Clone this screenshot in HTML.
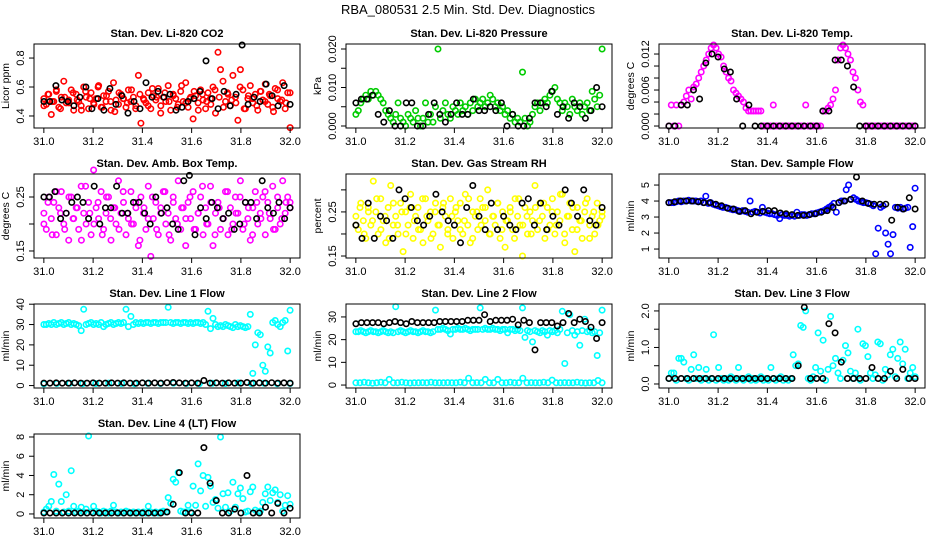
<!DOCTYPE html>
<html><head><meta charset="utf-8"><style>
html,body{margin:0;padding:0;background:#fff}
svg{display:block}
text{font-family:"Liberation Sans",sans-serif;fill:#000}
</style></head><body>
<svg id="chart" width="936" height="540" viewBox="0 0 936 540" xmlns="http://www.w3.org/2000/svg">
<rect width="936" height="540" fill="#fff"/>
<text x="468" y="14" text-anchor="middle" font-size="13">RBA_080531  2.5 Min. Std. Dev. Diagnostics</text>
</svg>
<script>
const xTicks=[31.0,31.2,31.4,31.6,31.8,32.0];
const co2Red=[0.52,0.48,0.55,0.41,0.50,0.57,0.46,0.53,0.64,0.49,0.51,0.58,0.44,0.55,0.50,0.47,0.60,0.53,0.45,0.56,0.49,0.52,0.61,0.46,0.54,0.50,0.57,0.44,0.63,0.51,0.48,0.55,0.52,0.46,0.58,0.50,0.53,0.47,0.68,0.35,0.52,0.49,0.56,0.45,0.54,0.51,0.59,0.47,0.53,0.50,0.61,0.44,0.55,0.52,0.48,0.57,0.50,0.63,0.46,0.53,0.38,0.54,0.49,0.58,0.51,0.45,0.56,0.52,0.60,0.42,0.84,0.72,0.64,0.50,0.55,0.47,0.68,0.53,0.37,0.72,0.58,0.45,0.52,0.61,0.49,0.55,0.44,0.57,0.51,0.62,0.48,0.54,0.46,0.59,0.52,0.50,0.63,0.45,0.56,0.32];
const co2RedB=[0.47,0.55,0.50,0.58,0.45,0.53,0.49,0.56,0.51,0.44,0.57,0.52,0.48,0.60,0.46,0.54,0.50,0.43,0.56,0.52,0.49,0.58,0.45,0.55,0.51,0.47,0.59,0.53,0.42,0.56,0.50,0.54,0.46,0.61,0.49,0.52,0.57,0.44,0.55,0.50,0.48,0.58,0.53,0.46,0.56,0.51,0.49,0.60,0.45,0.54,0.52,0.47,0.57,0.50,0.55,0.43,0.58,0.51,0.49,0.56];
const co2Black=[0.50,0.50,0.61,0.51,0.50,0.47,0.53,0.60,0.45,0.52,0.44,0.59,0.48,0.54,0.42,0.50,0.45,0.63,0.53,0.57,0.53,0.55,0.44,0.46,0.50,0.52,0.57,0.78,0.52,0.45,0.57,0.47,0.55,0.89,0.48,0.53,0.50,0.62,0.54,0.47,0.61,0.48];
const presGreen=[0.003,0.004,0.006,0.007,0.008,0.007,0.009,0.008,0.009,0.008,0.007,0.006,0.004,0.003,0.002,0.001,0.003,0.006,0.002,0.001,0.000,0.003,0.002,0.001,0.004,0.002,0.000,0.002,0.006,0.001,0.003,0.001,0.005,0.020,0.002,0.004,0.006,0.003,0.002,0.005,0.004,0.003,0.006,0.004,0.005,0.003,0.006,0.004,0.007,0.005,0.006,0.007,0.005,0.006,0.008,0.007,0.005,0.006,0.004,0.005,0.003,0.004,0.002,0.003,0.001,0.002,0.001,0.014,0.002,0.000,0.001,0.003,0.005,0.006,0.004,0.006,0.007,0.006,0.008,0.009,0.010,0.007,0.006,0.004,0.006,0.005,0.003,0.007,0.005,0.004,0.006,0.003,0.005,0.006,0.004,0.009,0.007,0.005,0.008,0.020];
const presBlack=[0.006,0.007,0.007,0.008,0.003,0.001,0.004,0.000,0.000,0.006,0.006,0.000,0.000,0.003,0.006,0.003,0.001,0.003,0.006,0.003,0.003,0.007,0.004,0.004,0.005,0.004,0.006,0.000,0.003,0.000,0.000,0.002,0.006,0.006,0.005,0.009,0.003,0.005,0.002,0.006,0.005,0.002,0.004,0.010,0.005];
const tempMagenta=[0,0.0035,0,0.0035,0,0.0035,0.004,0.005,0.006,0.0045,0.0065,0.007,0.008,0.009,0.010,0.011,0.012,0.013,0.0135,0.013,0.012,0.0115,0.010,0.009,0.008,0.0075,0.006,0.0055,0.005,0.0045,0.004,0.003,0.0025,0.0025,0.0025,0.0025,0.0025,0.0025,0,0,0,0,0.0035,0,0,0,0,0,0,0,0,0,0,0,0,0.0035,0,0,0,0,0,0,0.0025,0.0025,0.003,0.0035,0.0045,0.006,0.011,0.013,0.0135,0.013,0.012,0.011,0.009,0.008,0.006,0.004,0.0035,0,0,0,0,0,0,0,0,0,0,0,0,0,0,0,0,0,0,0,0,0];
const tempBlack=[0,0,0.0035,0.0035,0.006,0.0045,0.0105,0.012,0.0115,0.0095,0.009,0.0045,0,0.0035,0,0,0,0,0,0,0,0,0,0,0,0.0025,0.0025,0.011,0.011,0.010,0.0065,0,0,0,0,0,0,0,0,0,0];
const boxMagenta=[0.22,0.19,0.25,0.21,0.24,0.18,0.23,0.26,0.20,0.22,0.17,0.25,0.21,0.23,0.19,0.27,0.22,0.20,0.24,0.18,0.30,0.23,0.21,0.26,0.19,0.22,0.25,0.17,0.23,0.20,0.28,0.22,0.24,0.18,0.21,0.26,0.20,0.23,0.16,0.25,0.22,0.19,0.27,0.14,0.21,0.24,0.18,0.23,0.26,0.20,0.22,0.17,0.25,0.21,0.28,0.19,0.23,0.16,0.24,0.21,0.26,0.19,0.22,0.25,0.18,0.23,0.20,0.27,0.16,0.22,0.24,0.19,0.21,0.26,0.18,0.23,0.20,0.25,0.22,0.28,0.19,0.24,0.21,0.17,0.23,0.26,0.20,0.22,0.25,0.18,0.24,0.21,0.27,0.19,0.23,0.20,0.28,0.22,0.25,0.24];
const boxMagentaB=[0.20,0.24,0.18,0.26,0.22,0.19,0.25,0.21,0.23,0.17,0.27,0.22,0.20,0.24,0.18,0.25,0.21,0.23,0.19,0.26,0.22,0.20,0.24,0.17,0.23,0.21,0.25,0.19,0.22,0.26,0.18,0.24,0.20,0.23,0.21,0.25,0.19,0.22,0.27,0.20,0.24,0.18,0.23,0.21,0.26,0.19,0.22,0.25,0.20,0.23,0.18,0.24,0.21,0.26,0.22,0.19,0.25,0.21,0.24,0.23];
const boxBlack=[0.25,0.25,0.26,0.21,0.22,0.24,0.25,0.24,0.21,0.27,0.20,0.23,0.23,0.27,0.22,0.22,0.24,0.24,0.22,0.20,0.25,0.22,0.23,0.20,0.19,0.28,0.29,0.18,0.23,0.21,0.24,0.23,0.21,0.22,0.19,0.20,0.24,0.24,0.21,0.28,0.23,0.22,0.24,0.21,0.23];
const rhYellow=[0.24,0.21,0.27,0.23,0.19,0.26,0.22,0.32,0.25,0.20,0.28,0.23,0.18,0.26,0.31,0.22,0.24,0.20,0.27,0.16,0.25,0.22,0.29,0.19,0.24,0.26,0.21,0.18,0.28,0.23,0.25,0.20,0.27,0.22,0.17,0.26,0.24,0.21,0.28,0.19,0.25,0.23,0.27,0.20,0.29,0.22,0.18,0.25,0.24,0.21,0.28,0.26,0.23,0.30,0.20,0.24,0.22,0.27,0.19,0.25,0.17,0.23,0.26,0.21,0.28,0.24,0.22,0.15,0.26,0.20,0.25,0.23,0.31,0.21,0.27,0.24,0.19,0.26,0.22,0.28,0.20,0.25,0.23,0.29,0.18,0.24,0.27,0.21,0.16,0.26,0.23,0.19,0.25,0.28,0.22,0.24,0.20,0.27,0.23,0.25];
const rhYellowB=[0.22,0.26,0.20,0.25,0.23,0.28,0.21,0.24,0.19,0.27,0.22,0.25,0.20,0.26,0.23,0.21,0.28,0.24,0.19,0.25,0.22,0.27,0.20,0.24,0.26,0.21,0.23,0.28,0.19,0.25,0.22,0.26,0.20,0.24,0.27,0.21,0.23,0.25,0.19,0.28,0.22,0.24,0.20,0.26,0.23,0.27,0.21,0.25,0.22,0.29,0.20,0.24,0.26,0.21,0.23,0.27,0.19,0.25,0.22,0.24];
const rhBlack=[0.22,0.19,0.27,0.19,0.24,0.23,0.19,0.30,0.28,0.26,0.23,0.22,0.24,0.29,0.25,0.23,0.22,0.18,0.26,0.31,0.24,0.21,0.27,0.21,0.24,0.22,0.21,0.27,0.28,0.22,0.27,0.21,0.24,0.22,0.30,0.27,0.24,0.30,0.23,0.22,0.26];
const flowBlue=[3.9,3.9,3.9,3.95,4.0,3.95,4.0,4.0,4.05,4.0,4.0,4.0,3.95,4.0,3.9,4.3,3.85,3.9,3.8,3.75,3.7,3.65,3.6,3.6,3.55,3.5,3.45,3.45,3.4,3.35,3.4,3.35,3.3,4.0,3.3,3.35,3.3,3.25,3.6,3.3,3.25,3.2,3.2,3.15,3.1,2.9,3.15,3.1,3.1,3.05,3.1,3.05,3.3,3.1,3.15,3.15,3.1,3.15,3.2,3.2,3.25,3.3,3.35,3.4,3.5,3.6,3.7,3.85,3.3,3.9,4.0,4.0,4.7,5.0,4.1,4.2,4.1,4.0,3.95,3.9,3.9,3.85,3.8,3.7,0.7,2.3,3.6,3.7,2.0,1.3,0.7,1.9,3.6,3.55,3.6,3.5,3.55,3.6,1.1,2.4,4.8];
const flowBlack=[3.9,3.95,4.0,4.0,4.0,3.95,3.9,3.9,3.8,3.7,3.55,3.5,3.35,3.4,3.2,3.3,3.35,3.4,3.4,3.25,3.2,3.15,3.1,3.1,3.15,3.2,3.3,3.4,3.6,3.9,4.0,4.1,5.5,4.0,3.85,3.8,3.8,3.8,2.8,3.6,3.5,4.2,3.5];
const line1Cyan=[30,30,30.5,30,31,30,30.5,31,30,30.5,31,30,30.5,30,29.5,27,37.5,30,30.5,31,30,30.5,30,31,29,30,30.5,31,30,30.5,31,30.5,31,37.5,29,34,30,31,30.5,31,30.5,31,31,30.5,31,31,30.5,31,31,31,38.5,31,30.5,31,31,30.5,31,31,30.5,31,30.5,31,31,30.5,31,30,36.5,28,33,30,29,29.5,29,30,29.5,29,28.5,30,29,29.5,29,28.5,29,35,6,20,26,25,10,7,19,16,31,32,30,29,31,32,17,37];
const line1CyanLow=[0.8,1.0,1.1,0.9,1.0,1.2,1.0,0.9,1.1,1.0,1.2,1.0,0.9,1.1,1.0,1.3,1.0,1.1,0.9,1.0];
const line1Black=[1.2,1.2,1.3,1.2,1.2,1.3,1.2,1.2,1.3,1.2,1.2,1.3,1.2,1.3,1.2,1.2,1.3,1.2,1.3,1.2,1.4,1.5,1.3,1.2,1.3,1.2,2.5,1.2,1.3,1.2,1.3,1.2,1.2,1.5,1.2,1.3,1.2,1.4,1.2,1.3,1.2];
const line2Cyan=[23.5,23.5,24,23.5,23,23.5,24,23.5,23.5,23,23.5,24,23.5,23,23.5,23,34.5,23.5,24,23.5,23,23.5,24,23.5,23.5,23,23.5,24,23.5,23.5,23,23.5,33,24.5,24.5,25,24.5,24,22.5,24.5,24.5,25,24.5,24.5,25,24.5,24,24.5,24.5,24.5,34,24.5,25,24.5,24.5,25,24.5,24.5,24,24.5,24.5,23,24.5,24.5,24,24.5,24,34,21,24,23.5,19,24,23.5,23,24,23.5,22,24,23.5,24,23,24.5,32.5,9.5,23,31,24,22,23.5,17.5,24,29,23.5,24,23,23.5,13,23,33];
const line2CyanLow=[1,1,1.2,1,0.8,1,1.2,1,2.5,1,1,1.2,1,0.9,1,1,1.1,1,1.2,1,1,1,1.1,1,1,1.2,1,3,1,1.1,1,2.5,1,1,2.5,1,1,1.2,1,1,3,1,1.1,1,1,1.2,1,2.2,1,1,1.1,1,1,1.2,1,0.9,1,1,2,1];
const line2Black=[27,27.5,27.5,27.5,27.5,27,27.5,28,27.5,27,28,27.5,27.5,27.5,27.5,28,28,28,28,28,28.5,28.5,28.5,31,28,28.5,28.5,28.5,29,26.5,28.5,27.5,15.5,27.5,27.5,27.5,26,27.5,31.5,27.5,29,28,25.5,20.5,27.5];
const line3Cyan=[0.15,0.3,0.3,0.1,0.7,0.7,0.6,0.15,0.1,0.4,0.8,0.15,0.45,0.1,0.15,0.4,0.1,0.15,1.35,0.1,0.45,0.15,0.1,0.15,0.1,0.2,0.15,0.1,0.45,0.15,0.1,0.15,0.2,0.1,0.15,0.1,0.15,0.2,0.1,0.15,0.1,0.45,0.15,0.1,0.15,0.2,0.1,0.15,0.1,0.15,0.8,0.5,0.55,1.6,1.55,2.0,0.15,0.1,0.2,0.45,1.4,0.35,1.2,0.1,0.4,1.85,0.5,0.7,0.3,0.15,0.65,1.05,0.85,0.35,0.15,0.3,1.5,0.1,1.1,1.05,0.75,0.3,0.15,0.25,1.15,1.1,0.1,0.4,0.25,0.8,0.95,0.2,0.7,1.15,0.55,0.95,0.15,0.3,0.45,0.2];
const line3Black=[0.15,0.15,0.15,0.15,0.15,0.15,0.15,0.15,0.15,0.15,0.15,0.15,0.15,0.15,0.15,0.15,0.15,0.15,0.15,0.15,0.15,0.5,2.1,0.15,0.15,0.15,1.65,1.4,0.6,0.15,0.15,0.15,0.15,0.45,0.15,0.15,0.35,0.15,0.4,0.15,0.15];
const line4Cyan=[0.2,0.5,0.8,1.3,4.1,0.3,3.1,1.3,0.2,2.0,0.3,4.5,0.8,0.2,0.3,0.7,0.2,0.5,8.1,0.2,0.8,0.3,0.2,0.1,0.3,0.2,0.1,0.3,0.9,0.2,0.1,0.2,0.1,0.3,0.2,0.1,0.2,0.1,0.2,0.1,0.2,0.1,0.8,0.2,0.1,0.2,0.1,0.2,0.3,0.2,1.7,1.1,3.6,3.3,4.3,0.3,0.2,0.2,0.9,0.2,2.9,0.9,5.2,2.4,4.0,0.8,3.8,2.9,1.2,1.5,0.6,8.0,2.1,0.7,2.2,0.3,3.3,0.7,2.1,2.7,1.6,0.2,0.3,2.3,2.8,0.4,0.2,0.3,1.2,2.1,2.8,1.4,2.2,2.5,1.2,2.0,0.3,0.9,1.9,1.0];
const line4Black=[0.1,0.1,0.1,0.1,0.1,0.1,0.1,0.1,0.1,0.1,0.1,0.1,0.1,0.1,0.1,0.1,0.1,0.1,0.1,0.1,0.2,1.0,4.3,0.1,0.1,0.1,6.9,3.2,1.4,0.1,0.1,0.5,0.1,4.0,0.1,0.1,0.7,0.1,1.1,0.1,0.6];

const panels=[
 {name:"co2",title:"Stan. Dev. Li-820 CO2",ylab:"Licor ppm",col:0,row:0,lo:0.317,hi:0.897,ticks:[0.4,0.6,0.8],labels:["0.4","0.6","0.8"],series:[[co2Red,"#ff0000"],[co2RedB,"#ff0000"],[co2Black,"#000"]]},
 {name:"pressure",title:"Stan. Dev. Li-820 Pressure",ylab:"kPa",col:1,row:0,lo:-0.00052,hi:0.0213,ticks:[0,0.005,0.010,0.015,0.020],labels:["0.000","","0.010","","0.020"],series:[[presGreen,"#00cc00"],[presBlack,"#000"]]},
 {name:"temp",title:"Stan. Dev. Li-820 Temp.",ylab:"degrees C",col:2,row:0,lo:-0.00033,hi:0.01367,ticks:[0,0.002,0.004,0.006,0.008,0.010,0.012],labels:["0.000","","","0.006","","","0.012"],series:[[tempMagenta,"#ff00ff"],[tempBlack,"#000"]]},
 {name:"box-temp",title:"Stan. Dev. Amb. Box Temp.",ylab:"degrees C",col:0,row:1,lo:0.137,hi:0.2926,ticks:[0.15,0.20,0.25],labels:["0.15","","0.25"],series:[[boxMagenta,"#ff00ff"],[boxMagentaB,"#ff00ff"],[boxBlack,"#000"]]},
 {name:"rh",title:"Stan. Dev. Gas Stream RH",ylab:"percent",col:1,row:1,lo:0.1455,hi:0.336,ticks:[0.15,0.20,0.25,0.30],labels:["0.15","","0.25",""],series:[[rhYellow,"#ffff00"],[rhYellowB,"#ffff00"],[rhBlack,"#000"]]},
 {name:"sample-flow",title:"Stan. Dev. Sample Flow",ylab:"ml/min",col:2,row:1,lo:0.44,hi:5.69,ticks:[1,2,3,4,5],labels:["1","2","3","4","5"],series:[[flowBlue,"#0000ff"],[flowBlack,"#000"]]},
 {name:"line1",title:"Stan. Dev. Line 1 Flow",ylab:"ml/min",col:0,row:2,lo:-1.2,hi:40.1,ticks:[0,10,20,30,40],labels:["0","10","20","30","40"],series:[[line1Cyan,"#00ffff"],[line1CyanLow,"#00ffff"],[line1Black,"#000"]]},
 {name:"line2",title:"Stan. Dev. Line 2 Flow",ylab:"ml/min",col:1,row:2,lo:-1.3,hi:35.7,ticks:[0,10,20,30],labels:["0","10","20","30"],series:[[line2Cyan,"#00ffff"],[line2CyanLow,"#00ffff"],[line2Black,"#000"]]},
 {name:"line3",title:"Stan. Dev. Line 3 Flow",ylab:"ml/min",col:2,row:2,lo:-0.11,hi:2.19,ticks:[0,0.5,1.0,1.5,2.0],labels:["0.0","","1.0","","2.0"],series:[[line3Cyan,"#00ffff"],[line3Black,"#000"]]},
 {name:"line4",title:"Stan. Dev. Line 4 (LT) Flow",ylab:"ml/min",col:0,row:3,lo:-0.42,hi:8.31,ticks:[0,2,4,6,8],labels:["0","2","4","6","8"],series:[[line4Cyan,"#00ffff"],[line4Black,"#000"]]}
];
const colLeft=[34,346,659], rowTop=[44,174,304,434], W=266, H=84;
const NS="http://www.w3.org/2000/svg";
const svg=document.getElementById('chart');
function mk(tag,attrs,parent,txt){const e=document.createElementNS(NS,tag);for(const k in attrs)e.setAttribute(k,attrs[k]);if(txt!==undefined)e.textContent=txt;parent.appendChild(e);return e;}
panels.forEach(p=>{
  const L=colLeft[p.col], T=rowTop[p.row];
  const xs=v=>L+W*(v-30.96)/1.08;
  const ys=v=>T+H-H*(v-p.lo)/(p.hi-p.lo);
  const g=mk('g',{},svg);
  
  
  const t=mk('text',{x:L+W/2,y:T-7,'text-anchor':'middle','font-size':'11','font-weight':'bold'},g,p.title);
  
  
  const yl=mk('text',{x:0,y:0,'text-anchor':'middle','font-size':'10.5',transform:`translate(${L-25},${T+H/2}) rotate(-90)`},g,p.ylab);
  
  
  const pts=mk('g',{fill:'none','stroke-width':'1.6'},g);
  
  
  p.series.forEach(([arr,color])=>{
    arr.forEach((v,i)=>{
      const c=mk('circle',{cx:xs(31+i/(arr.length-1)).toFixed(1),cy:ys(v).toFixed(1),r:2.7,stroke:color},pts);
      
      
    });
  });
  const box=mk('rect',{x:L,y:T,width:W,height:H,fill:'none',stroke:'#000','stroke-width':'1'},g);
  
  
  xTicks.forEach(v=>{
    const x=xs(v);
    mk('line',{x1:x,x2:x,y1:T+H,y2:T+H+5,stroke:'#000'},g);
    const tl=mk('text',{x:x,y:T+H+17,'text-anchor':'middle','font-size':'11'},g,v.toFixed(1));
    
    
  });
  p.ticks.forEach((v,i)=>{
    const y=ys(v);
    mk('line',{x1:L-5,x2:L,y1:y,y2:y,stroke:'#000'},g);
    if(p.labels[i]){
      const tl=mk('text',{x:0,y:0,'text-anchor':'middle','font-size':'11',transform:`translate(${L-10},${y}) rotate(-90)`},g,p.labels[i]);
      
      
    }
  });
});
</script>
</body></html>
